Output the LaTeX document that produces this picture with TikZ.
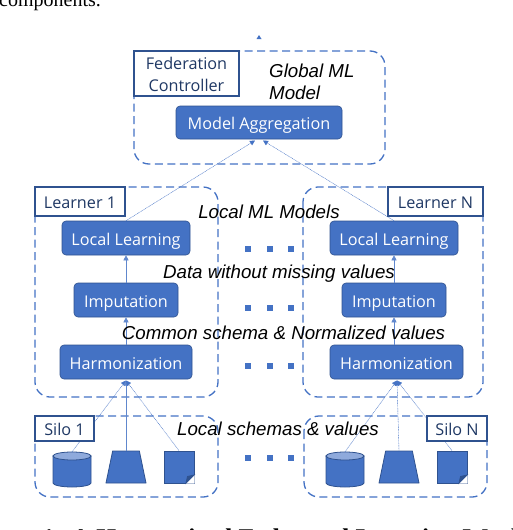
\documentclass[tikz,border=0pt]{standalone}
\usepackage{fontspec}
\setmainfont{Open Sans}
\newfontfamily\capfont{Liberation Serif}
\newfontfamily\notefont{Liberation Sans}
\usetikzlibrary{shapes.geometric,arrows.meta}
\definecolor{bluefill}{HTML}{4472C4}
\definecolor{blueedge}{HTML}{2F528F}
\definecolor{bluelight}{HTML}{8FAADC}
\definecolor{navy}{HTML}{1F3864}
\tikzset{
 x=1pt,y=-1pt,
 dashbox/.style={draw=bluefill,line width=1.3pt,dash pattern=on 8pt off 4.5pt,rounded corners=15pt},
 labelbox/.style={draw=blueedge,line width=1.4pt,fill=white,text=navy,font=\fontsize{16.2}{22}\selectfont,inner sep=0pt},
 singleline/.style={text height=14pt,text depth=0pt},
 stepbox/.style={draw=blueedge,line width=.6pt,fill=bluefill,text=white,rounded corners=4pt,font=\fontsize{16.2}{18}\selectfont,inner sep=0pt,singleline},
 solidlink/.style={draw=bluefill!85!white,line width=.6pt,-{Triangle[length=5pt,width=5pt]}},
 thinlink/.style={draw=bluefill,line width=.4pt,dash pattern=on 1pt off .6pt,-{Triangle[length=5pt,width=5pt]}},
 note/.style={font=\notefont\itshape\fontsize{18.7}{22}\selectfont,inner sep=0pt},
 dot/.style={fill=bluefill,minimum size=6pt,inner sep=0pt},
 shapefill/.style={draw=blueedge,line width=.8pt,fill=bluefill,inner sep=0pt},
}
\newcommand{\boxat}[6][stepbox]{\node[#1,minimum width=#4pt-#3pt,minimum height=#6pt-#5pt] (#2) at ({(#3+#4)/2},{(#5+#6)/2})}
% cylinder drawn round a named node
\newcommand{\cylat}[2]{%
 \node[minimum width=38pt,minimum height=35pt,inner sep=0pt] (#1) at (#2,469.5) {};
 \draw[shapefill] (#2-19,456) -- (#2-19,483) arc[start angle=180,end angle=360,x radius=19,y radius=-4] -- (#2+19,456) -- cycle;
 \draw[shapefill,fill=bluelight] (#2,456) ellipse[x radius=19,y radius=4];
}
\begin{document}
\begin{tikzpicture}
\useasboundingbox (0,0) rectangle (512,530);
% surrounding text
\begin{scope}
\clip (0,0) rectangle (512,530);
\node[anchor=base west,inner sep=0pt,font=\capfont\fontsize{20}{24}\selectfont] (toptext) at (-1,6) {components.};
\node[anchor=base west,inner sep=0pt,font=\capfont\bfseries\fontsize{25.5}{28}\selectfont] (captext) at (-36.5,546.3) {Figure 1: A Harmonized Federated Learning Workflow};
\end{scope}
% dashed containers
\draw[dashbox] (134,51) rectangle (385,164);
\draw[dashbox] (35,187) rectangle (218,397);
\draw[dashbox] (303,187) rectangle (483,397);
\draw[dashbox] (35,416) rectangle (218,497);
\draw[dashbox] (304,416) rectangle (487,497);
% steps
\boxat{agg}{176}{342}{106}{139} {Model Aggregation};
\boxat{ll1}{62}{190}{221}{255} {Local Learning};
\boxat{imp1}{74}{178}{283}{317} {Imputation};
\boxat{har1}{60}{192}{345}{379} {Harmonization};
\boxat{llN}{330}{458}{221}{255} {Local Learning};
\boxat{impN}{342}{446}{283}{317} {Imputation};
\boxat{harN}{330}{463}{345}{379} {Harmonization};
% sources
\cylat{cyl1}{72}
\cylat{cylN}{345}
\node[trapezium,trapezium stretches=true,trapezium left angle=76,trapezium right angle=76,shapefill,inner sep=1pt,minimum width=40pt,minimum height=32pt] (trap1) at (126,467) {};
\node[trapezium,trapezium stretches=true,trapezium left angle=76,trapezium right angle=76,shapefill,inner sep=1pt,minimum width=40pt,minimum height=32pt] (trapN) at (399,467) {};
\boxat[shapefill]{doc1}{164}{194}{451}{483} {};
\boxat[shapefill]{docN}{437}{467}{451}{483} {};
\fill[white] (194.6,475) -- (194.6,483.6) -- (186,483.6) -- cycle;
\fill[white] (467.6,475) -- (467.6,483.6) -- (459,483.6) -- cycle;
\draw[shapefill,fill=blueedge] (194,475) -- (186,483) -- (187.5,476.5) -- cycle;
\draw[shapefill,fill=blueedge] (467,475) -- (459,483) -- (460.5,476.5) -- cycle;
% top output tip
\coordinate (out) at (259,35);
\fill[bluefill] (out) -- (256.5,39) -- (261.5,39) -- cycle;
% connectors
\coordinate (agg1) at (255,140.5);
\coordinate (aggN) at (263,140.5);
\draw[thinlink] (ll1.north) -- (agg1);
\draw[thinlink] (llN.north) -- (aggN);
\draw[solidlink] (imp1.north) -- (ll1.south);
\draw[solidlink] (har1.north -| imp1) -- (imp1.south);
\draw[solidlink] (impN.north) -- (llN.south);
\draw[solidlink] (harN.north -| impN) -- (impN.south);
\coordinate (h1) at (126,380.5);
\coordinate (hN) at (397,380.5);
\draw[thinlink] (cyl1.north) -- (h1);
\draw[solidlink] (trap1.north) -- (h1);
\draw[thinlink] (doc1.north) -- (h1);
\draw[thinlink] (cylN.north) -- (hN);
\draw[thinlink] (trapN.north) -- (hN);
\draw[thinlink] (docN.north) -- (hN);
% label boxes
\boxat[labelbox,align=center]{fed}{134}{239}{51}{96} {\rule{0pt}{14pt}Federation\\Controller};
\boxat[labelbox,singleline]{learn1}{35}{125}{187}{216} {Learner 1};
\boxat[labelbox,singleline]{learnN}{388}{483}{187}{216} {Learner N};
\boxat[labelbox,singleline]{silo1}{35}{94}{416}{441} {Silo 1};
\boxat[labelbox,singleline]{siloN}{427}{487}{416}{441} {Silo N};
% dots
\foreach \y/\n in {249/a,308/b,366/c,458/d}{
 \node[dot] (dl\n) at (248,\y) {};
 \node[dot] (dm\n) at (270,\y) {};
 \node[dot] (dr\n) at (291,\y) {};
}
% notes
\node[note,anchor=west,align=left] (gm) at (269,82) {Global ML\\Model};
\node[note] (lm) at (269,212) {Local ML Models};
\node[note] (dw) at (279,274) {Data without missing values};
\node[note] (cs) at (283.5,332.5) {Common schema \& Normalized values};
\node[note] (ls) at (278,429) {Local schemas \& values};
\end{tikzpicture}
\end{document}
